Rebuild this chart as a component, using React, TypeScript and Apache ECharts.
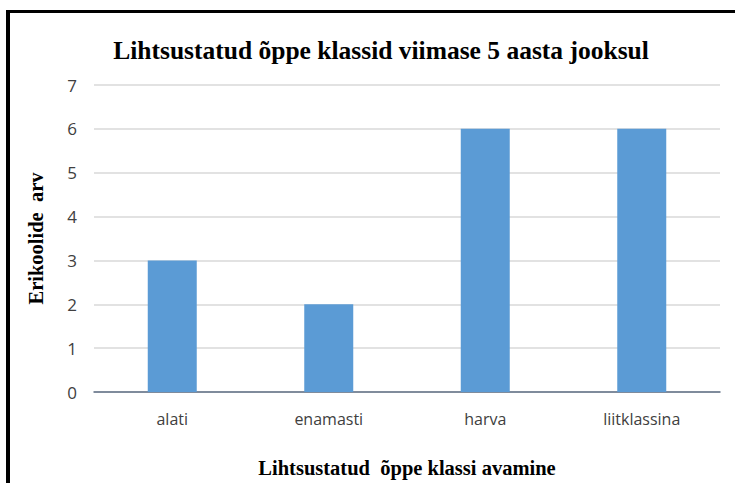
import React, { useEffect, useRef } from "react";
import * as echarts from "echarts";

const categories = ["alati", "enamasti", "harva", "liitklassina"];
const values = [3, 2, 6, 6];
const chartTitle = "Lihtsustatud õppe klassid viimase 5 aasta jooksul";
const yAxisName = "Erikoolide  arv";
const xAxisName = "Lihtsustatud  õppe klassi avamine";

export default function App() {
  const ref = useRef<HTMLDivElement>(null);
  useEffect(() => {
    if (!ref.current) return;
    const chart = echarts.init(ref.current, null, { renderer: "svg" });
    chart.setOption({
      animation: false,
      backgroundColor: "#ffffff",
      title: {
        text: chartTitle,
        left: 376,
        textAlign: "center",
        top: 32,
        textStyle: {
          fontFamily: "Liberation Serif",
          fontWeight: "bold",
          fontSize: 25.5,
          color: "#000000",
        },
      },
      grid: { left: 94, right: 15, top: 85, bottom: 89 },
      xAxis: {
        type: "category",
        data: categories,
        axisLine: { lineStyle: { color: "#5f6f85", width: 1.5 } },
        axisTick: { show: false },
        axisLabel: {
          fontFamily: "Open Sans",
          fontSize: 16,
          color: "#404040",
          margin: 19,
        },
        name: xAxisName,
        nameLocation: "middle",
        nameGap: 65,
        nameTextStyle: {
          fontFamily: "Liberation Serif",
          fontWeight: "bold",
          fontSize: 20.5,
          color: "#000000",
        },
      },
      yAxis: {
        type: "value",
        min: 0,
        max: 7,
        interval: 1,
        axisLine: { show: false },
        axisTick: { show: false },
        splitLine: { lineStyle: { color: "#d9d9d9", width: 1.5 } },
        axisLabel: {
          fontFamily: "Open Sans",
          fontSize: 17,
          color: "#404040",
          margin: 17,
        },
        name: yAxisName,
        nameLocation: "middle",
        nameGap: 48,
        nameTextStyle: {
          fontFamily: "Liberation Serif",
          fontWeight: "bold",
          fontSize: 20.5,
          color: "#000000",
        },
      },
      series: [
        {
          type: "bar",
          data: values,
          barWidth: 49,
          itemStyle: { color: "#5b9bd5" },
        },
      ],
      graphic: [
        { type: "rect", shape: { x: 6, y: 10, width: 4, height: 473 }, style: { fill: "#000000" } },
        { type: "rect", shape: { x: 6, y: 10, width: 729, height: 3 }, style: { fill: "#000000" } },
      ],
    });
    return () => chart.dispose();
  }, []);
  return (
    <div
      ref={ref}
      style={{ position: "fixed", left: 0, top: 0, width: 735, height: 483 }}
    />
  );
}
